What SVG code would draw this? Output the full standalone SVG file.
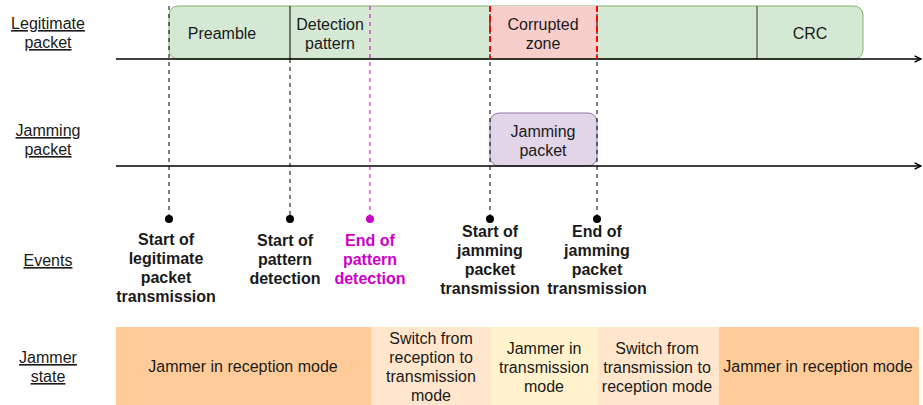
<svg xmlns="http://www.w3.org/2000/svg" width="923" height="405" viewBox="0 0 923 405">
<style>
text{font-family:"Liberation Sans",Arial,sans-serif;font-size:16px;fill:#1a1a1a;text-anchor:middle}
.lbl{text-decoration:underline}
.ev{font-weight:bold}
.mag{fill:#cc00cc}
.axis{stroke:#000;stroke-width:1.5;fill:none}
.dash{stroke:#000;stroke-width:1;stroke-dasharray:4 4;fill:none}
.dmag{stroke:#cc00cc;stroke-width:1;stroke-dasharray:4 4;fill:none}
.dred{stroke:#ff0000;stroke-width:2;stroke-dasharray:6 4;fill:none}
</style>
<defs>
<marker id="arr" viewBox="0 0 10 10" refX="9" refY="5" markerWidth="8" markerHeight="8" markerUnits="userSpaceOnUse" orient="auto">
<path d="M1,1 L9,5 L1,9" fill="none" stroke="#000" stroke-width="1.8"/>
</marker>
</defs>

<g id="labels">
<text class="lbl" x="48" y="29">Legitimate</text>
<text class="lbl" x="48" y="48">packet</text>
<text class="lbl" x="48" y="136">Jamming</text>
<text class="lbl" x="48" y="155">packet</text>
<text class="lbl" x="48" y="266">Events</text>
<text class="lbl" x="48" y="363">Jammer</text>
<text class="lbl" x="48" y="382">state</text>
</g>

<g id="legit-packet">
<rect x="169" y="6" width="694" height="53" rx="9" fill="#d5e8d4" stroke="#82b366" stroke-width="1"/>
<rect x="490" y="6" width="107" height="53" fill="#f8cecc"/>
<line x1="290" y1="6" x2="290" y2="59" stroke="#000" stroke-width="1"/>
<line x1="757" y1="6" x2="757" y2="59" stroke="#333" stroke-width="1"/>
<text x="222" y="39">Preamble</text>
<text x="330" y="30">Detection</text>
<text x="330" y="49">pattern</text>
<text x="543" y="30">Corrupted</text>
<text x="543" y="49">zone</text>
<text x="810" y="39">CRC</text>
</g>

<g id="jamming-packet">
<rect x="490" y="113" width="107" height="53" rx="9" fill="#e1d5e7" stroke="#9673a6" stroke-width="1"/>
<text x="543" y="137">Jamming</text>
<text x="543" y="156">packet</text>
</g>

<g id="connectors">
<line class="axis" x1="116" y1="59" x2="921" y2="59" marker-end="url(#arr)"/>
<line class="axis" x1="116" y1="166" x2="921" y2="166" marker-end="url(#arr)"/>
<line class="dash" x1="169" y1="6" x2="169" y2="216"/>
<line class="dash" x1="290" y1="59" x2="290" y2="216"/>
<line class="dmag" x1="370" y1="6" x2="370" y2="216"/>
<line class="dash" x1="490" y1="6" x2="490" y2="216"/>
<line class="dash" x1="597" y1="6" x2="597" y2="216"/>
<line class="dred" x1="490" y1="6" x2="490" y2="59"/>
<line class="dred" x1="597" y1="6" x2="597" y2="59"/>
</g>

<g id="events">
<circle cx="169" cy="219" r="4" fill="#000"/>
<circle cx="290" cy="219" r="4" fill="#000"/>
<circle cx="370" cy="219" r="4" fill="#cc00cc"/>
<circle cx="490" cy="219" r="4" fill="#000"/>
<circle cx="597" cy="219" r="4" fill="#000"/>
<text class="ev" x="166" y="245">Start of</text>
<text class="ev" x="166" y="264">legitimate</text>
<text class="ev" x="166" y="283">packet</text>
<text class="ev" x="166" y="302">transmission</text>
<text class="ev" x="285" y="246">Start of</text>
<text class="ev" x="285" y="265">pattern</text>
<text class="ev" x="285" y="284">detection</text>
<text class="ev mag" x="370" y="246">End of</text>
<text class="ev mag" x="370" y="265">pattern</text>
<text class="ev mag" x="370" y="284">detection</text>
<text class="ev" x="490" y="237">Start of</text>
<text class="ev" x="490" y="256">jamming</text>
<text class="ev" x="490" y="275">packet</text>
<text class="ev" x="490" y="294">transmission</text>
<text class="ev" x="597" y="237">End of</text>
<text class="ev" x="597" y="256">jamming</text>
<text class="ev" x="597" y="275">packet</text>
<text class="ev" x="597" y="294">transmission</text>
</g>

<g id="jammer-state">
<rect x="116" y="327" width="255" height="78" fill="#ffcc99"/>
<rect x="371" y="327" width="120" height="78" fill="#ffe6cc"/>
<rect x="491" y="327" width="107" height="78" fill="#fff2cc"/>
<rect x="598" y="327" width="121" height="78" fill="#ffe6cc"/>
<rect x="719" y="327" width="200" height="78" fill="#ffcc99"/>
<text x="243" y="372">Jammer in reception mode</text>
<text x="431" y="344">Switch from</text>
<text x="431" y="363">reception to</text>
<text x="431" y="382">transmission</text>
<text x="431" y="401">mode</text>
<text x="544" y="354">Jammer in</text>
<text x="544" y="373">transmission</text>
<text x="544" y="392">mode</text>
<text x="657" y="354">Switch from</text>
<text x="657" y="373">transmission to</text>
<text x="657" y="392">reception mode</text>
<text x="818" y="372">Jammer in reception mode</text>
</g>
</svg>
